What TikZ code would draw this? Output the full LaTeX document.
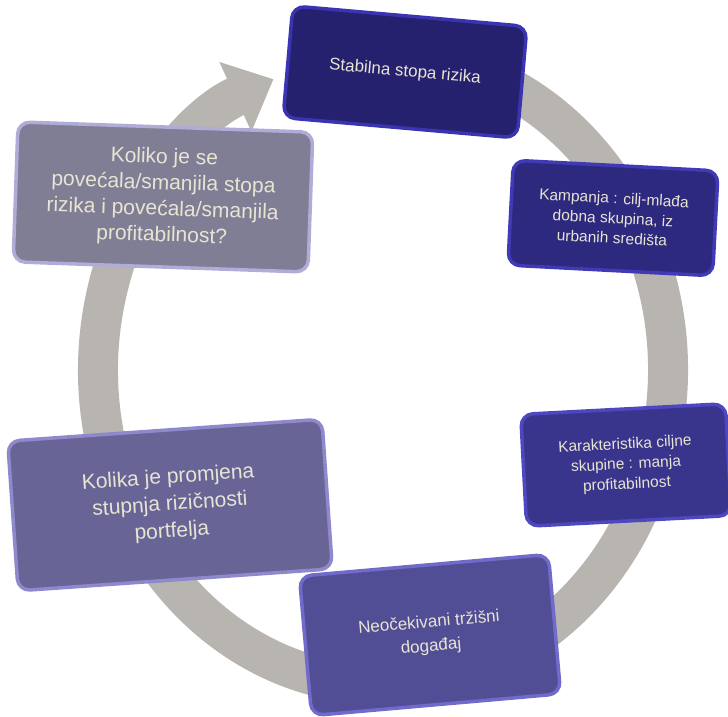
\documentclass[tikz,border=0pt]{standalone}
\usepackage{fontspec}
\setmainfont{Liberation Sans}
\usetikzlibrary{arrows.meta}

\definecolor{ringgray}{RGB}{184,180,176}
\definecolor{boxtext}{RGB}{232,228,212}
\definecolor{fillA}{RGB}{37,33,110}
\definecolor{edgeA}{RGB}{58,52,178}
\definecolor{fillB}{RGB}{44,41,126}
\definecolor{edgeB}{RGB}{64,58,182}
\definecolor{fillC}{RGB}{58,53,140}
\definecolor{edgeC}{RGB}{78,72,192}
\definecolor{fillD}{RGB}{82,78,150}
\definecolor{edgeD}{RGB}{112,106,202}
\definecolor{fillE}{RGB}{104,101,150}
\definecolor{edgeE}{RGB}{142,136,204}
\definecolor{fillF}{RGB}{128,126,148}
\definecolor{edgeF}{RGB}{176,172,216}

\begin{document}
\begin{tikzpicture}[x=1pt, y=1pt,
    cyclebox/.style={draw, line width=3.5pt, rounded corners=12pt,
        align=center, text=boxtext, inner sep=0pt}]
    \useasboundingbox (0,0) rectangle (728,717);

    % kružna strelica (ciklus)
    \draw[ringgray, line width=40pt, -{Triangle[width=74pt, length=42pt]}]
        (432.5,657.2) arc[start angle=80, end angle=-247.4, x radius=285, y radius=315];

    % koraci ciklusa
    \node[cyclebox, fill=fillA, draw=edgeA, minimum width=235pt, minimum height=112pt,
          rotate=-5, font=\fontsize{17}{22}\selectfont] (stabilna) at (405,645)
        {Stabilna stopa rizika};
    \node[cyclebox, fill=fillB, draw=edgeB, minimum width=205pt, minimum height=105pt,
          rotate=-3, font=\fontsize{15.5}{20}\selectfont] (kampanja) at (613,499)
        {Kampanja : cilj-mlađa\\ dobna skupina, iz\\ urbanih središta};
    \node[cyclebox, fill=fillC, draw=edgeC, minimum width=205pt, minimum height=112pt,
          rotate=3, font=\fontsize{15.5}{20}\selectfont] (karakteristika) at (626,252)
        {Karakteristika ciljne\\ skupine : manja\\ profitabilnost};
    \node[cyclebox, fill=fillD, draw=edgeD, minimum width=250pt, minimum height=140pt,
          rotate=5, font=\fontsize{17}{24}\selectfont] (neocekivani) at (430,82)
        {Neočekivani tržišni\\ događaj};
    \node[cyclebox, fill=fillE, draw=edgeE, minimum width=315pt, minimum height=150pt,
          rotate=4, font=\fontsize{21}{27}\selectfont] (kolika) at (170,212)
        {Kolika je promjena\\ stupnja rizičnosti\\ portfelja};
    \node[cyclebox, fill=fillF, draw=edgeF, minimum width=295pt, minimum height=140pt,
          rotate=-2, font=\fontsize{21}{26}\selectfont] (koliko) at (163,520)
        {Koliko je se\\ povećala/smanjila stopa\\ rizika i povećala/smanjila\\ profitabilnost?};
\end{tikzpicture}
\end{document}
